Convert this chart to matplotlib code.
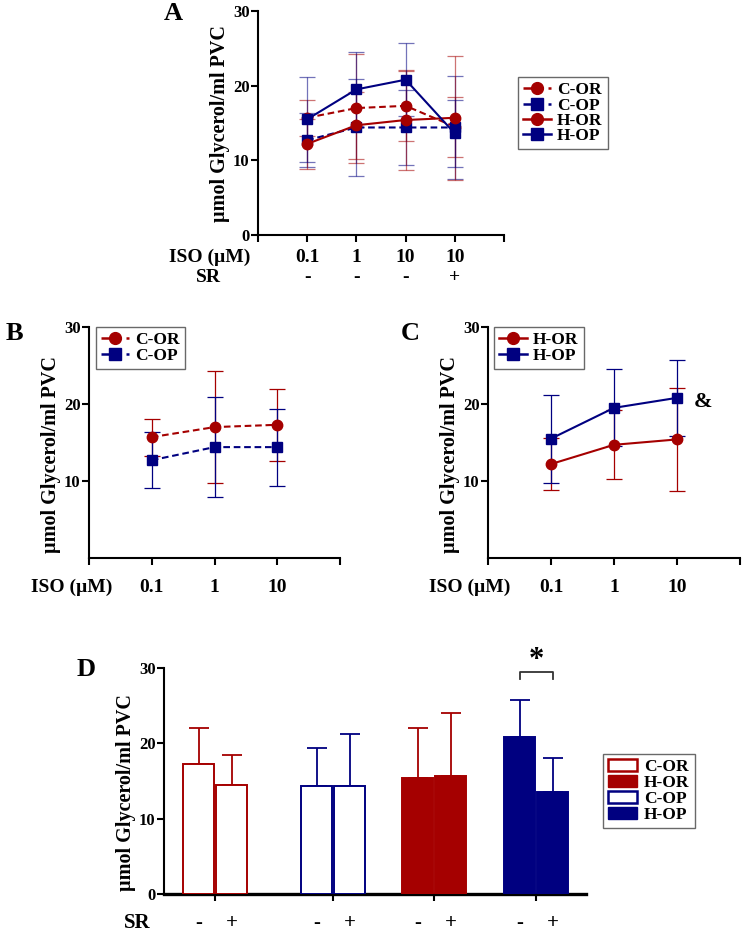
import matplotlib
matplotlib.use('Agg')
import matplotlib.pyplot as plt
from matplotlib.colors import to_rgba
from matplotlib.lines import Line2D
from matplotlib.patches import Patch

plt.rcParams['font.family'] = ['Liberation Serif', 'DejaVu Serif']
plt.rcParams['font.weight'] = 'bold'

# ---------------- data ----------------
iso_labels = ['0.1', '1', '10']
a_labels = ['0.1', '1', '10', '10']
sr_a = ['-', '-', '-', '+']
sr_d = ['-', '+']
groups = ['C-OR', 'C-OP', 'H-OR', 'H-OP']

c_or_mean = [15.7, 17.0, 17.3, 14.5]
c_or_sem = [2.4, 7.3, 4.7, 4.0]
c_op_mean = [12.7, 14.4, 14.4, 14.4]
c_op_sem = [3.6, 6.5, 5.0, 6.9]
h_or_mean = [12.2, 14.7, 15.4, 15.7]
h_or_sem = [3.4, 4.5, 6.7, 8.3]
h_op_mean = [15.5, 19.5, 20.8, 13.6]
h_op_sem = [5.7, 5.0, 4.9, 4.5]

RED = '#A50000'
BLUE = '#000080'
W, H = 747, 933
PT = 0.72  # points per pixel at dpi 100

fig = plt.figure(figsize=(W / 100, H / 100), dpi=100)


def ax_px(x0, y_bottom, x1, y_top):
    return fig.add_axes([x0 / W, 1 - y_bottom / H, (x1 - x0) / W, (y_bottom - y_top) / H])


def style_axis(ax, yticks, ylab_frac=0.5, lw=1.5, bottom_lw=1.5):
    for s in ['top', 'right']:
        ax.spines[s].set_visible(False)
    ax.spines['left'].set_linewidth(lw)
    ax.spines['bottom'].set_linewidth(bottom_lw)
    ax.set_ylim(0, 30)
    ax.set_yticks(yticks)
    ax.set_yticklabels([str(t) for t in yticks], fontsize=12, fontweight='bold')
    ax.tick_params(axis='y', direction='out', length=5, width=1.5, pad=1)
    ax.tick_params(axis='x', direction='out', length=5, width=1.5, labelbottom=False)
    ax.annotate('µmol Glycerol/ml PVC', xy=(0, ylab_frac), xycoords='axes fraction',
                xytext=(-38 * PT, 0), textcoords='offset points', rotation=90,
                ha='center', va='center', fontsize=14.5, fontweight='bold',
                annotation_clip=False)


def row_text(ax, xs, labels, dy_px, fs=14):
    for x, l in zip(xs, labels):
        ax.annotate(l, xy=(x, 0), xycoords=('data', 'axes fraction'),
                    xytext=(0, -dy_px * PT), textcoords='offset points',
                    ha='center', va='center', fontsize=fs, fontweight='bold',
                    annotation_clip=False)


def row_title(ax, text, dx_px, dy_px, fs=14):
    ax.annotate(text, xy=(0, 0), xycoords='axes fraction',
                xytext=(dx_px * PT, -dy_px * PT), textcoords='offset points',
                ha='center', va='center', fontsize=fs, fontweight='bold',
                annotation_clip=False)


def series(ax, x, m, e, color, ls, marker, label, ealpha=1.0):
    ax.errorbar(x, m, yerr=e, color=color, ls=ls, marker=marker, ms=7.5, lw=1.5,
                ecolor=to_rgba(color, ealpha), elinewidth=0.9, capsize=6, capthick=0.9,
                label=label, zorder=3)


def handle(color, ls, marker, label):
    return Line2D([], [], color=color, ls=ls, marker=marker, ms=8.5, lw=1.8, label=label)


def make_legend(ax, handles, x_px, y_px, hl=1.6, fs=12.5):
    leg = ax.legend(handles=handles, loc='upper left', bbox_to_anchor=(x_px / W, 1 - y_px / H),
                    bbox_transform=fig.transFigure, borderaxespad=0, fancybox=False,
                    edgecolor='#444444', handlelength=hl, borderpad=0.3,
                    labelspacing=-0.05, handletextpad=0.35,
                    prop={'weight': 'bold', 'size': fs})
    leg.get_frame().set_linewidth(1.0)
    return leg


DASH = (0, (3.2, 1.8))

# ---------------- Panel A ----------------
axA = ax_px(258, 235, 504, 11)
xa = [1, 2, 3, 4]
series(axA, xa, c_or_mean, c_or_sem, RED, DASH, 'o', 'C-OR', 0.55)
series(axA, xa, c_op_mean, c_op_sem, BLUE, DASH, 's', 'C-OP', 0.55)
series(axA, xa, h_or_mean, h_or_sem, RED, '-', 'o', 'H-OR', 0.55)
series(axA, xa, h_op_mean, h_op_sem, BLUE, '-', 's', 'H-OP', 0.55)
axA.set_xlim(0, 5)
axA.set_xticks([0, 1, 2, 3, 4, 5])
style_axis(axA, [0, 10, 20, 30])
row_text(axA, xa, a_labels, 22)
row_text(axA, xa, sr_a, 43)
row_title(axA, 'ISO (µM)', -48, 22)
row_title(axA, 'SR', -50, 43)
make_legend(axA, [handle(RED, DASH, 'o', 'C-OR'), handle(BLUE, DASH, 's', 'C-OP'),
                  handle(RED, '-', 'o', 'H-OR'), handle(BLUE, '-', 's', 'H-OP')], 518, 77)

# ---------------- Panel B ----------------
axB = ax_px(89, 558, 340, 327)
xb = [1, 2, 3]
series(axB, xb, c_or_mean[:3], c_or_sem[:3], RED, DASH, 'o', 'C-OR')
series(axB, xb, c_op_mean[:3], c_op_sem[:3], BLUE, DASH, 's', 'C-OP')
axB.set_xlim(0, 4)
axB.set_xticks([0, 1, 2, 3, 4])
style_axis(axB, [10, 20, 30], ylab_frac=0.45)
row_text(axB, xb, iso_labels, 29)
row_title(axB, 'ISO (µM)', -17, 29)
make_legend(axB, [handle(RED, DASH, 'o', 'C-OR'), handle(BLUE, DASH, 's', 'C-OP')], 96, 327)

# ---------------- Panel C ----------------
axC = ax_px(488, 558, 740, 327)
series(axC, xb, h_or_mean[:3], h_or_sem[:3], RED, '-', 'o', 'H-OR')
series(axC, xb, h_op_mean[:3], h_op_sem[:3], BLUE, '-', 's', 'H-OP')
axC.set_xlim(0, 4)
axC.set_xticks([0, 1, 2, 3, 4])
style_axis(axC, [10, 20, 30], ylab_frac=0.45)
row_text(axC, xb, iso_labels, 29)
row_title(axC, 'ISO (µM)', -18, 29)
axC.annotate('&', xy=(3, h_op_mean[2]), xytext=(26 * PT, -4 * PT), textcoords='offset points',
             ha='center', va='center', fontsize=16, fontweight='bold')
make_legend(axC, [handle(RED, '-', 'o', 'H-OR'), handle(BLUE, '-', 's', 'H-OP')], 494, 327)

# ---------------- Panel D ----------------
axD = ax_px(164, 894, 586, 668)
centers = [0, 3.58, 6.64, 9.73]
means = [c_or_mean, c_op_mean, h_or_mean, h_op_mean]
sems = [c_or_sem, c_op_sem, h_or_sem, h_op_sem]
colors = [RED, BLUE, RED, BLUE]
filled = [False, False, True, True]
bw = 0.94
sign_x = []
for g, m, s, col, f in zip(centers, means, sems, colors, filled):
    xs = [g - 0.5, g + 0.5]
    vals = [m[2], m[3]]
    errs = [s[2], s[3]]
    axD.errorbar(xs, vals, yerr=[[0, 0], errs], fmt='none', ecolor=col, elinewidth=1.3,
                 capsize=7, capthick=1.3, zorder=2)
    axD.bar(xs, vals, width=bw, facecolor=col if f else 'white', edgecolor=col,
            linewidth=1.4, zorder=3)
    sign_x += xs
axD.set_xlim(-1.55, 11.24)
axD.set_xticks(centers)
style_axis(axD, [0, 10, 20, 30], ylab_frac=0.45, bottom_lw=2.4)
row_text(axD, sign_x, sr_d * 4, 29, fs=15)
row_title(axD, 'SR', -27, 29, fs=15)
# significance bracket
g4 = centers[3]
axD.plot([g4 - 0.5, g4 - 0.5, g4 + 0.5, g4 + 0.5], [28.5, 29.5, 29.5, 28.5],
         color='#333333', lw=1.3, clip_on=False)
axD.text(g4, 31.0, '*', ha='center', va='center', fontsize=22, fontweight='bold')
handles = [Patch(facecolor='white', edgecolor=RED, linewidth=1.8, label='C-OR'),
           Patch(facecolor=RED, edgecolor=RED, label='H-OR'),
           Patch(facecolor='white', edgecolor=BLUE, linewidth=1.8, label='C-OP'),
           Patch(facecolor=BLUE, edgecolor=BLUE, label='H-OP')]
legD = axD.legend(handles=handles, loc='upper left', bbox_to_anchor=(603 / W, 1 - 754 / H),
                  bbox_transform=fig.transFigure, borderaxespad=0, fancybox=False,
                  edgecolor='#444444', handlelength=1.65, handleheight=0.65, borderpad=0.3,
                  labelspacing=0.0, handletextpad=0.4,
                  prop={'weight': 'bold', 'size': 12.5})
legD.get_frame().set_linewidth(1.0)

# ---------------- panel letters ----------------
for letter, x, y in [('A', 173, 13), ('B', 14, 333), ('C', 410, 333), ('D', 86, 670)]:
    fig.text(x / W, 1 - y / H, letter, ha='center', va='center', fontsize=19, fontweight='bold')

fig.savefig('out.png', dpi=100)
